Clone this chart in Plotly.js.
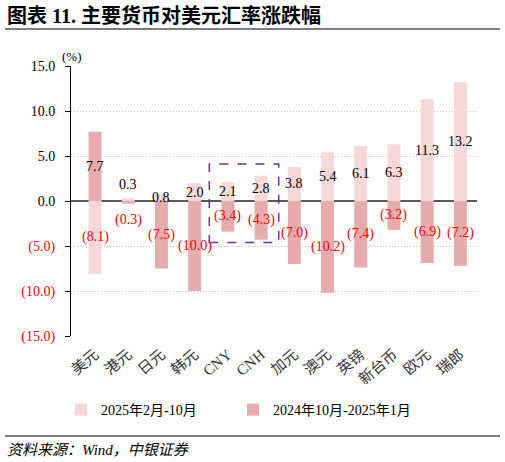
<!DOCTYPE html>
<html>
<head>
<meta charset="utf-8">
<script src="https://cdn.plot.ly/plotly-3.0.1.min.js"></script>
<style>html,body{margin:0;padding:0;background:#fff;}#chart{width:505px;height:462px;}</style>
</head>
<body>
<div id="chart"></div>
<script>
const categories = ['美元','港元','日元','韩元','CNY','CNH','加元','澳元','英镑','新台币','欧元','瑞郎'];
const seriesRecent = [-8.1, 0.3, 0.8, 2.0, 2.1, 2.8, 3.8, 5.4, 6.1, 6.3, 11.3, 13.2];
const seriesEarlier = [7.7, -0.3, -7.5, -10.0, -3.4, -4.3, -7.0, -10.2, -7.4, -3.2, -6.9, -7.2];
const nameRecent = '2025年2月-10月';
const nameEarlier = '2024年10月-2025年1月';
const posTicks = [0, 5, 10, 15];
const negTicks = [-5, -10, -15];

const serif = 'Liberation Serif, Noto Sans CJK SC, serif';
const lightColor = '#F6D8D8';
const darkColor = '#E6ABAB';

// plot area in pixels: left 71, right 477, top 66, bottom 336
function py(px) { return (336 - px) / 270; }
function pxX(px) { return (px - 71) / 406; }

function fmt(v) { return v < 0 ? '(' + Math.abs(v).toFixed(1) + ')' : v.toFixed(1); }

const traces = [
  { type: 'bar', x: categories, y: seriesRecent, name: nameRecent, marker: { color: lightColor }, width: 0.39, hoverinfo: 'skip', legend: 'legend' },
  { type: 'bar', x: categories, y: seriesEarlier, name: nameEarlier, marker: { color: darkColor }, width: 0.39, hoverinfo: 'skip', legend: 'legend2' }
];

const annotations = [];
[seriesRecent, seriesEarlier].forEach(arr => {
  arr.forEach((v, i) => {
    let yy = v / 2;
    if (Math.abs(v) < 0.5) yy = v > 0 ? 1.8 : -2.1;
    annotations.push({
      x: categories[i], y: yy, xref: 'x', yref: 'y', text: fmt(v), showarrow: false,
      font: { family: serif, size: 14, color: v < 0 ? '#FF0000' : '#000000' }
    });
  });
});
annotations.push({ x: pxX(60), y: py(57), xref: 'paper', yref: 'paper', xanchor: 'left', yanchor: 'middle', text: '(%)', showarrow: false, font: { family: serif, size: 13, color: '#000' } });
annotations.push({ x: pxX(5), y: py(15), xref: 'paper', yref: 'paper', xanchor: 'left', yanchor: 'middle', text: '<b>图表 11. 主要货币对美元汇率涨跌幅</b>', showarrow: false, font: { family: serif, size: 20, color: '#000' } });
annotations.push({ x: pxX(5), y: py(450), xref: 'paper', yref: 'paper', xanchor: 'left', yanchor: 'middle', text: '<i>资料来源：Wind，中银证券</i>', showarrow: false, font: { family: serif, size: 15, color: '#000' } });

const legendFont = { family: serif, size: 14, color: '#000' };
const layout = {
  width: 505, height: 462,
  margin: { l: 71, r: 28, t: 66, b: 126 },
  paper_bgcolor: '#fff', plot_bgcolor: '#fff',
  barmode: 'overlay',
  showlegend: true,
  legend: { orientation: 'h', x: pxX(61), xanchor: 'left', y: py(410), yanchor: 'middle', font: legendFont, bgcolor: 'rgba(0,0,0,0)' },
  legend2: { orientation: 'h', x: pxX(233), xanchor: 'left', y: py(410), yanchor: 'middle', font: legendFont, bgcolor: 'rgba(0,0,0,0)' },
  xaxis: { type: 'category', tickangle: -40, showline: false, ticks: '', showgrid: false, tickfont: { family: serif, size: 15, color: '#333' }, ticklabelstandoff: 6 },
  yaxis: {
    range: [-15, 15], tickvals: posTicks, ticktext: posTicks.map(v => v.toFixed(1)),
    showline: true, linecolor: '#000', linewidth: 1, ticks: 'outside', ticklen: 5, tickcolor: '#000',
    showgrid: true, gridcolor: '#C8C8C8', griddash: '1px,2px', gridwidth: 1,
    zeroline: true, zerolinecolor: '#595959', zerolinewidth: 1.5, ticklabelstandoff: 7,
    tickfont: { family: serif, size: 14, color: '#000' }, fixedrange: true
  },
  yaxis2: {
    overlaying: 'y', side: 'left', anchor: 'x', range: [-15, 15], tickvals: negTicks, ticktext: negTicks.map(v => fmt(v)),
    showline: false, ticks: 'outside', ticklen: 5, tickcolor: '#000', ticklabelstandoff: 7,
    showgrid: true, gridcolor: '#C8C8C8', griddash: '1px,2px', gridwidth: 1, zeroline: false,
    tickfont: { family: serif, size: 14, color: '#FF0000' }
  },
  shapes: [
    { type: 'line', xref: 'paper', yref: 'paper', x0: pxX(5), x1: pxX(500), y0: py(29), y1: py(29), line: { color: '#555', width: 1.5 } },
    { type: 'line', xref: 'paper', yref: 'paper', x0: pxX(5), x1: pxX(500), y0: py(436), y1: py(436), line: { color: '#555', width: 1.5 } },
    { type: 'rect', xref: 'x', yref: 'y', x0: 3.44, x1: 5.53, y0: -4.6, y1: 4.1, line: { color: '#7030A0', width: 1.5, dash: 'dash' } }
  ],
  annotations: annotations
};

// yaxis2 needs a trace to appear
traces.push({ type: 'scatter', x: [categories[0]], y: [0], yaxis: 'y2', mode: 'markers', marker: { opacity: 0 }, showlegend: false, hoverinfo: 'skip' });

Plotly.newPlot('chart', traces, layout, { staticPlot: true, displayModeBar: false });
</script>
</body>
</html>
